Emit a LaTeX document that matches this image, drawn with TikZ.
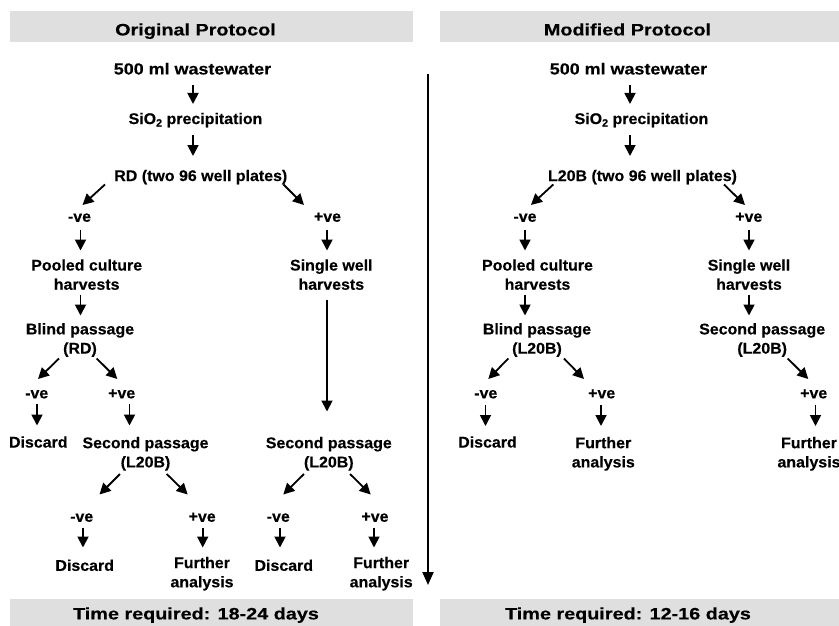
\documentclass[tikz,border=0pt]{standalone}
\usepackage{fontspec}
\setmainfont{Liberation Sans}
\newfontfamily\bodyfont{Liberation Sans}[FakeStretch=1.03,FakeBold=0.3]
\newfontfamily\widefont{Liberation Sans}[FakeStretch=1.12,FakeBold=0.3]
\newfontfamily\headfont{Liberation Sans}[FakeStretch=1.2,FakeBold=0.3]
\usetikzlibrary{arrows.meta,calc}
\newcommand{\subtwo}{\raisebox{-0.3ex}{\fontsize{10.5}{10}\selectfont 2}}
\tikzset{
  lbl/.style={inner sep=0pt, font=\bodyfont\bfseries\fontsize{15.5}{19.2}\selectfont, text height=11.1pt, text depth=0pt},
  mlbl/.style={inner sep=0pt, align=center, font=\bodyfont\bfseries\fontsize{15.5}{19.2}\selectfont},
  wlbl/.style={inner sep=0pt, font=\widefont\bfseries\fontsize{16}{19.2}\selectfont, text height=11.5pt, text depth=0pt},
  hd/.style={inner sep=0pt, font=\headfont\bfseries\fontsize{16.5}{20}\selectfont, text height=11.8pt, text depth=0pt},
  arr/.style={line width=1.8pt, -{Triangle[length=11pt,width=11pt]}},
  tarr/.style={line width=2pt, -{Triangle[length=13pt,width=11pt]}},
  bar/.style={fill=gray!25}
}
\begin{document}
\begin{tikzpicture}[x=1pt,y=-1pt]
\useasboundingbox (0,0) rectangle (839,626);
\fill[white] (0,0) rectangle (839,626);
% bars
\fill[bar] (10,11) rectangle (413,42);
\fill[bar] (440,11) rectangle (845,42);
\fill[bar] (10,599) rectangle (413,630);
\fill[bar] (440,599) rectangle (845,630);
\node[hd] (h1) at (195.5,29.5) {Original Protocol};
\node[hd] (h2) at (627.5,29.5) {Modified Protocol};
\node[hd] (t1) at (196,613.5) {Time required: 18-24 days};
\node[hd] (t2) at (628,613.5) {Time required: 12-16 days};
% timeline
\coordinate (tlTop) at (428,74);
\coordinate (tlBot) at (428,585);
\draw[tarr] (tlTop) -- (tlBot);
% ---------- left column nodes
\node[wlbl] (w1) at (192.5,68.7) {500 ml wastewater};
\node[lbl] (s1) at (195.5,118.5) {SiO\subtwo{} precipitation};
\node[lbl] (rd) at (200.8,175.5) {RD (two 96 well plates)};
\node[lbl] (n1) at (79.5,216.2) {-ve};
\node[lbl] (p1) at (327.5,216.2) {+ve};
\node[mlbl] (pool1) at (86.7,274.6) {Pooled culture\\harvests};
\node[mlbl] (sw1) at (331.3,274.6) {Single well\\harvests};
\node[mlbl] (bl1) at (80,340) {Blind passage\\(RD)};
\node[lbl] (n2) at (36.7,392.8) {-ve};
\node[lbl] (p2) at (121.7,392.8) {+ve};
\node[lbl] (d1) at (38.3,442) {Discard};
\node[mlbl] (sp1) at (145.5,453.8) {Second passage\\(L20B)};
\node[mlbl] (sp2) at (328.8,453.8) {Second passage\\(L20B)};
\node[lbl] (n3) at (81.7,516.2) {-ve};
\node[lbl] (p3) at (202.2,516.2) {+ve};
\node[lbl] (n4) at (278.3,516.2) {-ve};
\node[lbl] (p4) at (375,516.2) {+ve};
\node[lbl] (d2) at (84.7,565.3) {Discard};
\node[mlbl] (f1) at (202,573.7) {Further\\analysis};
\node[lbl] (d3) at (283.8,565.3) {Discard};
\node[mlbl] (f2) at (381.2,573.7) {Further\\analysis};
% ---------- right column nodes
\node[wlbl] (w2) at (628.5,68.7) {500 ml wastewater};
\node[lbl] (s2) at (641.5,118.5) {SiO\subtwo{} precipitation};
\node[lbl] (lb) at (642.5,175.5) {L20B (two 96 well plates)};
\node[lbl] (n5) at (525,216.2) {-ve};
\node[lbl] (p5) at (748.8,216.2) {+ve};
\node[mlbl] (pool2) at (537.5,274.6) {Pooled culture\\harvests};
\node[mlbl] (sw2) at (749,274.6) {Single well\\harvests};
\node[mlbl] (bl2) at (537,340) {Blind passage\\(L20B)};
\node[mlbl] (sp3) at (762.2,340) {Second passage\\(L20B)};
\node[lbl] (n6) at (485.8,392.8) {-ve};
\node[lbl] (p6) at (601.7,392.8) {+ve};
\node[lbl] (p7) at (813.7,392.8) {+ve};
\node[lbl] (d4) at (487.5,442) {Discard};
\node[mlbl] (f3) at (603.3,453.8) {Further\\analysis};
\node[mlbl] (f4) at (809,453.8) {Further\\analysis};
% ---------- left vertical arrows
\draw[arr] ($(w1)+(0.5,16.3)$) -- ($(s1)+(-2.5,-14.5)$);
\draw[arr] ($(s1)+(-2.5,16.5)$) -- ($(rd)+(-7.8,-19.5)$);
\draw[arr] ($(n1)+(1,13.3)$) -- ($(pool1)+(-6.2,-24.1)$);
\draw[arr] ($(pool1)+(-6.2,19.9)$) -- ($(bl1)+(0.5,-24.5)$);
\draw[arr] ($(n2)+(0.3,11.2)$) -- ($(d1)+(-1.3,-16.5)$);
\draw[arr] ($(p2)+(7.8,11.2)$) -- ($(sp1)+(-16,-28.3)$);
\draw[arr] ($(n3)+(1.3,11.3)$) -- ($(d2)+(-1.7,-17.8)$);
\draw[arr] ($(p3)+(0.5,11.3)$) -- ($(f1)+(0.7,-26.2)$);
\draw[arr] ($(p1)+(-0.5,13.3)$) -- ($(sw1)+(-4.3,-24.1)$);
\draw[arr] ($(sw1)+(-4.3,24.9)$) -- ($(sp2)+(-1.8,-42.3)$);
\draw[arr] ($(n4)+(1.7,11.3)$) -- ($(d3)+(-3.8,-17.8)$);
\draw[arr] ($(p4)+(-1,11.3)$) -- ($(f2)+(-7.2,-26.2)$);
% ---------- right vertical arrows
\draw[arr] ($(w2)+(1.5,16.3)$) -- ($(s2)+(-11.5,-14.5)$);
\draw[arr] ($(s2)+(-11.5,16.5)$) -- ($(lb)+(-12.5,-19.5)$);
\draw[arr] ($(n5)+(0,13.3)$) -- ($(pool2)+(-12.5,-24.1)$);
\draw[arr] ($(pool2)+(-12.5,19.9)$) -- ($(bl2)+(-12,-24.5)$);
\draw[arr] ($(n6)+(-0.3,11.7)$) -- ($(d4)+(-2,-16)$);
\draw[arr] ($(p6)+(-0.7,11.7)$) -- ($(f3)+(-2.3,-27.8)$);
\draw[arr] ($(p5)+(0.2,13.3)$) -- ($(sw2)+(0,-24.1)$);
\draw[arr] ($(sw2)+(0,19.9)$) -- ($(sp3)+(-13.2,-24.5)$);
\draw[arr] ($(p7)+(1.8,11.7)$) -- ($(f4)+(6.5,-27.8)$);
% ---------- diagonal arrows
\draw[arr] ($(rd)+(-95.8,9)$) -- ($(n1)+(3,-11.2)$);
\draw[arr] ($(rd)+(82.7,9)$) -- ($(p1)+(-23.5,-11.2)$);
\draw[arr] ($(bl1)+(-21,18.5)$) -- ($(n2)+(1.3,-13.8)$);
\draw[arr] ($(bl1)+(16.7,18.5)$) -- ($(p2)+(-4.4,-13.8)$);
\draw[arr] ($(sp1)+(-25.5,20.2)$) -- ($(n3)+(17.8,-21.7)$);
\draw[arr] ($(sp1)+(21.2,20.2)$) -- ($(p3)+(-14.5,-21.7)$);
\draw[arr] ($(sp2)+(-24.8,20.2)$) -- ($(n4)+(5,-21.7)$);
\draw[arr] ($(sp2)+(21.2,20.2)$) -- ($(p4)+(-4.3,-21.7)$);
\draw[arr] ($(lb)+(-89.2,9)$) -- ($(n5)+(6,-11.2)$);
\draw[arr] ($(lb)+(81.5,9)$) -- ($(p5)+(-3.8,-11.2)$);
\draw[arr] ($(bl2)+(-28.7,18.5)$) -- ($(n6)+(2.5,-13.8)$);
\draw[arr] ($(bl2)+(27,18.5)$) -- ($(p6)+(-17.7,-13.8)$);
\draw[arr] ($(sp3)+(25.5,18.5)$) -- ($(p7)+(-5.4,-13.8)$);
\end{tikzpicture}
\end{document}
